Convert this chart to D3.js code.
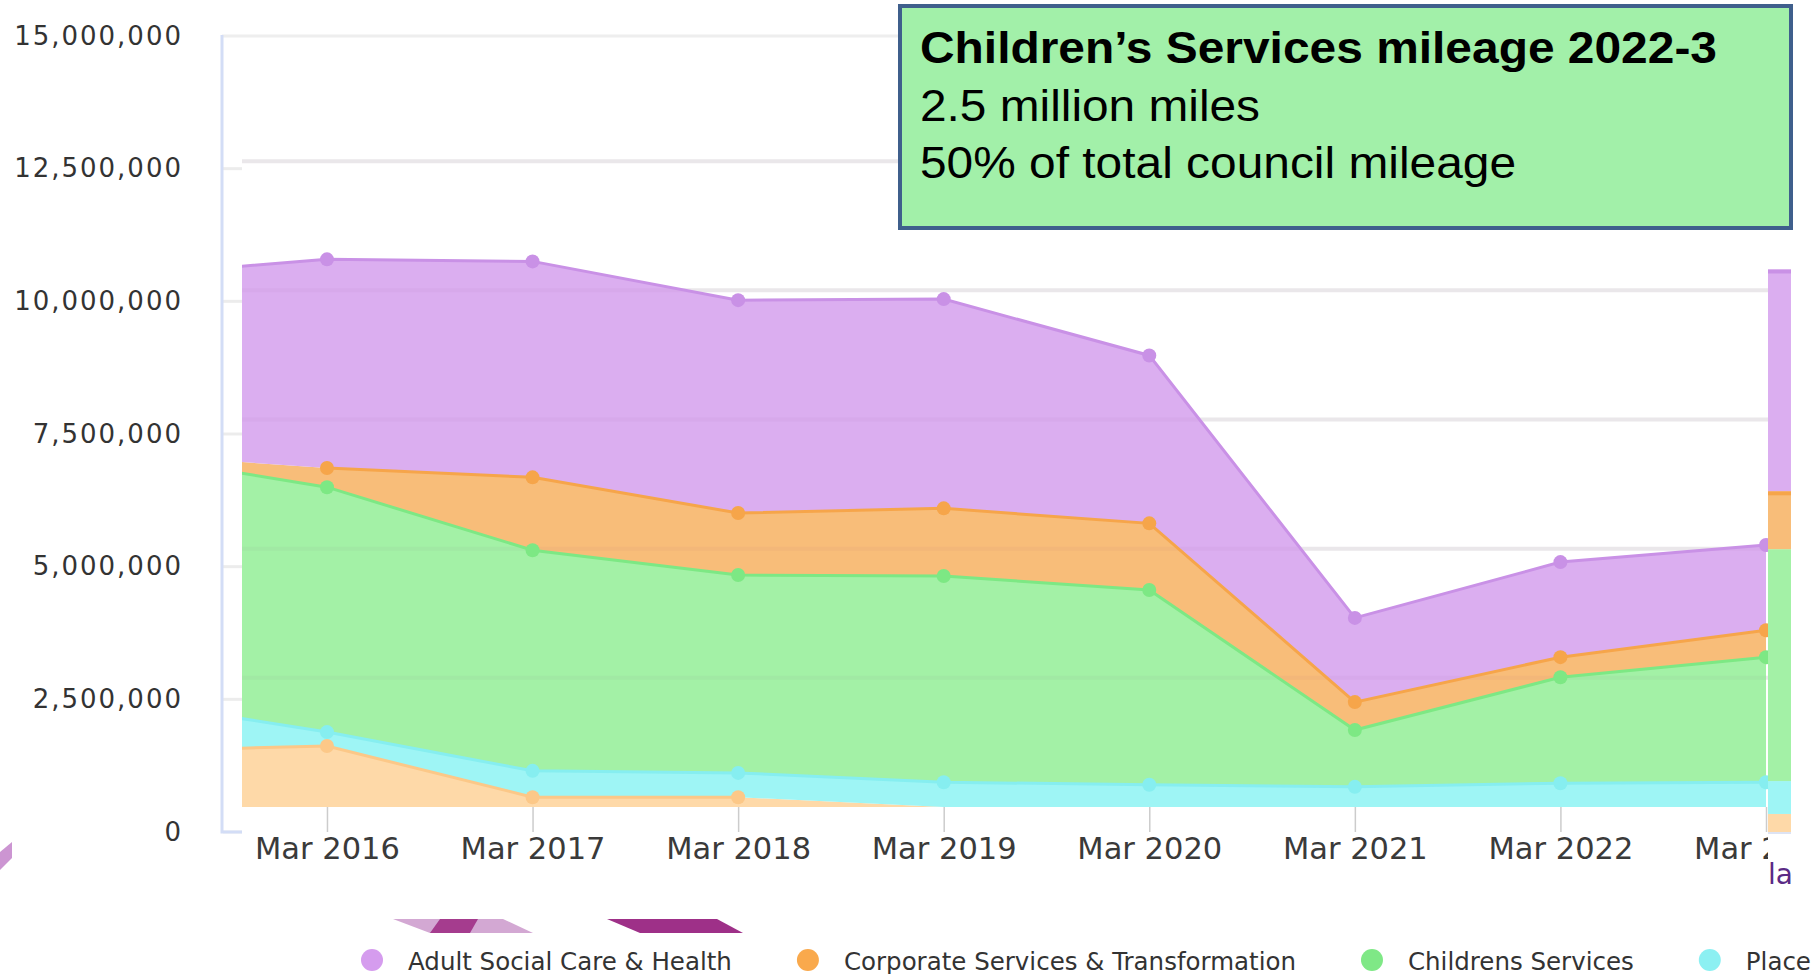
<!DOCTYPE html>
<html>
<head>
<meta charset="utf-8">
<script src="https://cdn.jsdelivr.net/npm/d3@7"></script>
<style>
  body { margin: 0; background: #fff; overflow: hidden; }
  svg { display: block; }
</style>
</head>
<body>
<div id="chart"></div>
<script>
// data (miles per year, stacked)
const months = ["Mar 2015", "Mar 2016", "Mar 2017", "Mar 2018", "Mar 2019", "Mar 2020", "Mar 2021", "Mar 2022", "Mar 2023"];
const adultSocialCare = [3440000, 4040000, 4180000, 4120000, 4050000, 3250000, 1630000, 1840000, 1650000];
const corporateServices = [0, 370000, 1410000, 1200000, 1310000, 1290000, 540000, 390000, 520000];
const childrensServices = [4760000, 4740000, 4270000, 3830000, 3990000, 3770000, 1100000, 2050000, 2420000];
const place = [1000000, 270000, 510000, 470000, 480000, 430000, 390000, 460000, 480000];
const otherServices = [1080000, 1180000, 190000, 190000, 0, 0, 0, 0, 0];

const yTicks = [0, 2500000, 5000000, 7500000, 10000000, 12500000, 15000000];
const legendLabels = ["Adult Social Care & Health", "Corporate Services & Transformation", "Childrens Services", "Place"];

// the narrow strip pasted at the right edge of the slide
const stripValues = [340000, 620000, 4370000, 1090000, 4180000];

const titleLines = ["Children\u2019s Services mileage 2022-3", "2.5 million miles", "50% of total council mileage"];

const keys = ["other", "place", "childrens", "corporate", "adult"];
const fills = { adult: "#dbaef0", corporate: "#f8bd79", childrens: "#a3f1a6", place: "#9ef5f5", other: "#fed9a8" };
const strokes = { adult: "#c991e6", corporate: "#f6a54a", childrens: "#7de884", place: "#86eef0", other: "#fcc888" };
const legendKeys = ["adult", "corporate", "childrens", "place"];
const legendColors = { adult: "#d59cee", corporate: "#f9a94c", childrens: "#7fe886", place: "#8cf0f2" };

const width = 1811, height = 974;

const rows = months.map((m, i) => ({
    month: m,
    other: otherServices[i],
    place: place[i],
    childrens: childrensServices[i],
    corporate: corporateServices[i],
    adult: adultSocialCare[i]
}));

const svg = d3.select("#chart")
    .append("svg")
    .attr("width", width)
    .attr("height", height);

// scales: outer axis frame and the (slightly offset) plot image
const x = d3.scalePoint().domain(months).range([121.4, 1766]);
const yAxisScale = d3.scaleLinear().domain([0, 15000000]).range([832, 36]);
const y = d3.scaleLinear().domain([0, 15000000]).range([807, 32]);

const plotLeft = 242, plotRight = 1768;

const defs = svg.append("defs");
defs.append("clipPath").attr("id", "plot-clip")
    .append("rect").attr("x", plotLeft).attr("y", 0).attr("width", plotRight - plotLeft).attr("height", 808);
defs.append("clipPath").attr("id", "axis-clip")
    .append("rect").attr("x", 0).attr("y", 0).attr("width", plotRight).attr("height", height);

// outer frame
svg.append("line")
    .attr("x1", 222).attr("x2", 900)
    .attr("y1", yAxisScale(15000000)).attr("y2", yAxisScale(15000000))
    .attr("stroke", "#eeeeee").attr("stroke-width", 3);

svg.append("g")
    .selectAll("line")
    .data(yTicks.slice(0, -1))
    .enter()
    .append("line")
    .attr("x1", 223).attr("x2", plotLeft)
    .attr("y1", d => yAxisScale(d)).attr("y2", d => yAxisScale(d))
    .attr("stroke", "#ececec").attr("stroke-width", 3);

svg.append("path")
    .attr("d", `M222,${yAxisScale(15000000) - 1}V${yAxisScale(0)}H${plotLeft}`)
    .attr("fill", "none")
    .attr("stroke", "#d3ddf6")
    .attr("stroke-width", 3);

// y axis labels
const yAxis = d3.axisLeft(yAxisScale)
    .tickValues(yTicks)
    .tickFormat(d3.format(","))
    .tickSize(0)
    .tickPadding(0);

const yG = svg.append("g")
    .attr("transform", "translate(183,0)")
    .call(yAxis);
yG.select(".domain").remove();
yG.selectAll("text")
    .attr("font-family", "'DejaVu Sans', Verdana, sans-serif")
    .attr("font-size", 26)
    .attr("letter-spacing", 2)
    .attr("fill", "#333");

// plot grid
const plot = svg.append("g").attr("clip-path", "url(#plot-clip)");

plot.append("g")
    .selectAll("line")
    .data(yTicks.slice(1, -1))
    .enter()
    .append("line")
    .attr("x1", plotLeft).attr("x2", plotRight)
    .attr("y1", d => y(d)).attr("y2", d => y(d))
    .attr("stroke", "#efefef").attr("stroke-width", 4);

// stacked areas
const stacked = d3.stack().keys(keys)(rows);

const area = d3.area()
    .x(d => x(d.data.month))
    .y0(d => y(d[0]))
    .y1(d => y(d[1]));

plot.selectAll(".layer")
    .data(stacked)
    .enter()
    .append("path")
    .attr("class", "layer")
    .attr("d", area)
    .attr("fill", s => fills[s.key]);

// grid shows faintly through the fills
plot.append("g")
    .selectAll("line")
    .data(yTicks.slice(1, -1))
    .enter()
    .append("line")
    .attr("x1", plotLeft).attr("x2", plotRight)
    .attr("y1", d => y(d)).attr("y2", d => y(d))
    .attr("stroke", "rgba(120,60,120,0.04)").attr("stroke-width", 4);

plot.selectAll(".edge")
    .data(stacked)
    .enter()
    .append("path")
    .attr("class", "edge")
    .attr("d", s => d3.line()
        .defined(d => d[1] - d[0] > 0)
        .x(d => x(d.data.month))
        .y(d => y(d[1]))(s))
    .attr("fill", "none")
    .attr("stroke", s => strokes[s.key])
    .attr("stroke-width", 3);

stacked.forEach(s => {
    plot.append("g")
        .selectAll("circle")
        .data(s.filter(d => d.data[s.key] > 0))
        .enter()
        .append("circle")
        .attr("cx", d => x(d.data.month))
        .attr("cy", d => y(d[1]))
        .attr("r", 7)
        .attr("fill", strokes[s.key]);
});

// x axis
const xAxis = d3.axisBottom(x)
    .tickValues(months.slice(1))
    .tickSize(25)
    .tickPadding(5);

const xG = svg.append("g")
    .attr("clip-path", "url(#axis-clip)")
    .append("g")
    .attr("transform", "translate(0," + y(0) + ")")
    .call(xAxis);
xG.select(".domain").remove();
xG.selectAll(".tick line").attr("stroke", "#cccccc").attr("stroke-width", 1.5);
xG.selectAll("text")
    .attr("font-family", "'DejaVu Sans', Verdana, sans-serif")
    .attr("font-size", 30.5)
    .attr("fill", "#3a3a3a");

// right-hand strip
const stripStack = d3.stack().keys(keys)([{
    other: stripValues[0], place: stripValues[1], childrens: stripValues[2],
    corporate: stripValues[3], adult: stripValues[4]
}]);
const stripLeft = x(months[months.length - 1]) + 2;
const strip = svg.append("g");
strip.selectAll("rect")
    .data(stripStack)
    .enter()
    .append("rect")
    .attr("x", stripLeft)
    .attr("width", 23)
    .attr("y", s => yAxisScale(s[0][1]))
    .attr("height", s => yAxisScale(s[0][0]) - yAxisScale(s[0][1]))
    .attr("fill", s => fills[s.key]);
strip.selectAll("line")
    .data(stripStack.filter(s => s.key === "adult" || s.key === "corporate"))
    .enter()
    .append("line")
    .attr("x1", stripLeft).attr("x2", stripLeft + 23)
    .attr("y1", s => yAxisScale(s[0][1]) + 2).attr("y2", s => yAxisScale(s[0][1]) + 2)
    .attr("stroke", s => strokes[s.key]).attr("stroke-width", 4);
strip.append("line")
    .attr("x1", stripLeft).attr("x2", stripLeft + 23)
    .attr("y1", yAxisScale(0) + 1).attr("y2", yAxisScale(0) + 1)
    .attr("stroke", "#dde3f3").attr("stroke-width", 2);
svg.append("text")
    .attr("x", stripLeft)
    .attr("y", 884)
    .attr("font-family", "'DejaVu Sans', Verdana, sans-serif")
    .attr("font-size", 28)
    .attr("fill", "#5b2a85")
    .text("la");

// title box
svg.append("rect")
    .attr("x", 900).attr("y", 6)
    .attr("width", 891).attr("height", 222)
    .attr("fill", "#a2f0a9")
    .attr("stroke", "#3f5f8c")
    .attr("stroke-width", 4);

const titleBaselines = [63, 121, 178];
const titleWidths = [797, 340, 596];
svg.append("g")
    .selectAll("text")
    .data(titleLines)
    .enter()
    .append("text")
    .attr("x", 920)
    .attr("y", (d, i) => titleBaselines[i])
    .attr("font-family", "'Liberation Sans', Arial, sans-serif")
    .attr("font-size", 45)
    .attr("font-weight", (d, i) => i === 0 ? "bold" : "normal")
    .attr("textLength", (d, i) => titleWidths[i])
    .attr("lengthAdjust", "spacingAndGlyphs")
    .attr("fill", "#000")
    .text(d => d);

// slide decoration behind the legend
const deco = svg.append("g");
deco.append("polygon").attr("points", "393,919 503,919 533,933 430,933").attr("fill", "#d3a8d3");
deco.append("polygon").attr("points", "440,919 478,919 470,933 430,933").attr("fill", "#a53c8e");
deco.append("polygon").attr("points", "607,919 717,919 743,933 640,933").attr("fill", "#9e3088");
deco.append("polygon").attr("points", "0,852 12,842 12,858 0,870").attr("fill", "#cc95d2");

// legend
const legend = svg.append("g").attr("transform", "translate(0,960)");
let lx = 372;
legendKeys.forEach((k, i) => {
    legend.append("circle")
        .attr("cx", lx).attr("cy", 0).attr("r", 11)
        .attr("fill", legendColors[k]);
    const t = legend.append("text")
        .attr("x", lx + 36)
        .attr("y", 10)
        .attr("font-family", "'DejaVu Sans', Verdana, sans-serif")
        .attr("font-size", 24.5)
        .attr("fill", "#333")
        .text(legendLabels[i]);
    lx += 36 + t.node().getComputedTextLength() + 76;
});
</script>
</body>
</html>
